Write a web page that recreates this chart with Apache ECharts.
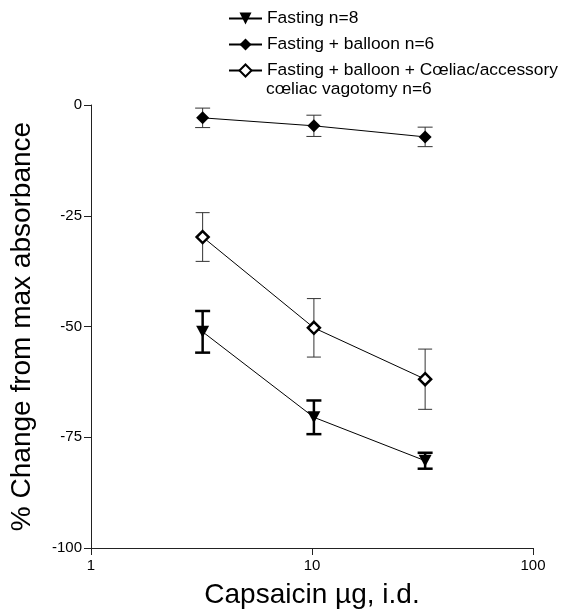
<!DOCTYPE html>
<html>
<head>
<meta charset="utf-8">
<script src="https://cdn.jsdelivr.net/npm/echarts@6/dist/echarts.min.js"></script>
<style>
html,body{margin:0;padding:0;background:#fff;}
#c{width:566px;height:614px;}
</style>
</head>
<body>
<div id="c"></div>
<script>
// ---- data ----
const doses = [3.2, 10.2, 32.5];            // capsaicin µg (log axis)
const seriesNames = [
  'Fasting n=8',
  'Fasting + balloon n=6',
  'Fasting + balloon + Cœliac/accessory\ncœliac vagotomy n=6'
];
const fastingMean = [-51.2, -70.5, -80.3];
const fastingSem  = [4.7, 3.8, 1.8];
const balloonMean = [-2.9, -4.7, -7.2];
const balloonSem  = [2.2, 2.4, 2.2];
const vagotomyMean = [-29.8, -50.3, -61.9];
const vagotomySem  = [5.5, 6.6, 6.8];
const xTicks = [1, 10, 100];
const yTicks = [-100, -75, -50, -25, 0];

const FONT = 'Liberation Sans, Arial, Helvetica, sans-serif';

function pts(mean) { return doses.map((d, i) => [d, mean[i]]); }
function errPts(mean, sem) { return doses.map((d, i) => [d, mean[i], sem[i]]); }

function errSeries(name, mean, sem, lw, cap, color) {
  return {
    type: 'custom',
    name: name,
    z: 1,
    silent: true,
    encode: { x: 0, y: 1 },
    data: errPts(mean, sem),
    renderItem: function (params, api) {
      const x = api.value(0), m = api.value(1), e = api.value(2);
      const top = api.coord([x, m + e]);
      const bot = api.coord([x, m - e]);
      const style = { stroke: color, lineWidth: lw };
      return {
        type: 'group',
        children: [
          { type: 'line', shape: { x1: top[0], y1: top[1], x2: bot[0], y2: bot[1] }, style: style },
          { type: 'line', shape: { x1: top[0] - cap / 2, y1: top[1], x2: top[0] + cap / 2, y2: top[1] }, style: style },
          { type: 'line', shape: { x1: bot[0] - cap / 2, y1: bot[1], x2: bot[0] + cap / 2, y2: bot[1] }, style: style }
        ]
      };
    }
  };
}

const chart = echarts.init(document.getElementById('c'), null, { renderer: 'canvas' });
chart.setOption({
  backgroundColor: '#fff',
  animation: false,
  textStyle: { fontFamily: FONT, color: '#000' },
  grid: { left: 89, top: 105, right: 33, bottom: 63, containLabel: false },
  legend: {
    orient: 'vertical',
    left: 228,
    top: 8,
    padding: 0,
    itemWidth: 33,
    itemHeight: 15,
    itemGap: 5,
    textStyle: { fontFamily: FONT, fontSize: 17.4, color: '#000', lineHeight: 21 },
    formatter: function (name) { return name.split('\n')[0]; },
    data: seriesNames,
    selectedMode: false
  },
  graphic: [{
    type: 'text',
    left: 266,
    top: 81,
    silent: true,
    style: {
      text: seriesNames[2].split('\n')[1],
      fontFamily: FONT, fontSize: 17.4, fill: '#000'
    }
  }],
  xAxis: {
    type: 'log',
    logBase: 10,
    min: xTicks[0],
    max: xTicks[xTicks.length - 1],
    name: 'Capsaicin µg, i.d.',
    nameLocation: 'middle',
    nameGap: 33,
    nameTextStyle: { fontFamily: FONT, fontSize: 28, color: '#000' },
    axisLine: { show: true, onZero: false, lineStyle: { color: '#222', width: 1 } },
    axisTick: { show: true, length: 7, lineStyle: { color: '#222', width: 1 } },
    minorTick: { show: false },
    axisLabel: { fontFamily: FONT, fontSize: 15, color: '#000', margin: 10,
      formatter: function (v) { return String(Math.round(v)); } },
    splitLine: { show: false }
  },
  yAxis: {
    type: 'value',
    min: yTicks[0],
    max: yTicks[yTicks.length - 1],
    interval: 25,
    name: '% Change from max absorbance',
    nameLocation: 'middle',
    nameRotate: 90,
    nameGap: 55,
    nameTextStyle: { fontFamily: FONT, fontSize: 28, color: '#000' },
    axisLine: { show: true, lineStyle: { color: '#222', width: 1 } },
    axisTick: { show: true, length: 7, lineStyle: { color: '#222', width: 1 } },
    axisLabel: { fontFamily: FONT, fontSize: 15, color: '#000', margin: 9 },
    splitLine: { show: false }
  },
  series: [
    errSeries('err-fasting', fastingMean, fastingSem, 2.5, 15, '#000'),
    errSeries('err-balloon', balloonMean, balloonSem, 1, 15, '#333'),
    errSeries('err-vagotomy', vagotomyMean, vagotomySem, 1, 14, '#333'),
    {
      type: 'line', name: seriesNames[0], z: 3,
      data: pts(fastingMean),
      symbol: 'triangle', symbolRotate: 180, symbolSize: [13, 12],
      lineStyle: { color: '#000', width: 1 },
      itemStyle: { color: '#000' }
    },
    {
      type: 'line', name: seriesNames[1], z: 3,
      data: pts(balloonMean),
      symbol: 'diamond', symbolSize: 13,
      lineStyle: { color: '#000', width: 1 },
      itemStyle: { color: '#000' }
    },
    {
      type: 'line', name: seriesNames[2], z: 3,
      data: pts(vagotomyMean),
      symbol: 'diamond', symbolSize: 12,
      lineStyle: { color: '#000', width: 1 },
      itemStyle: { color: '#fff', borderColor: '#000', borderWidth: 2.5 }
    }
  ]
});
</script>
</body>
</html>
